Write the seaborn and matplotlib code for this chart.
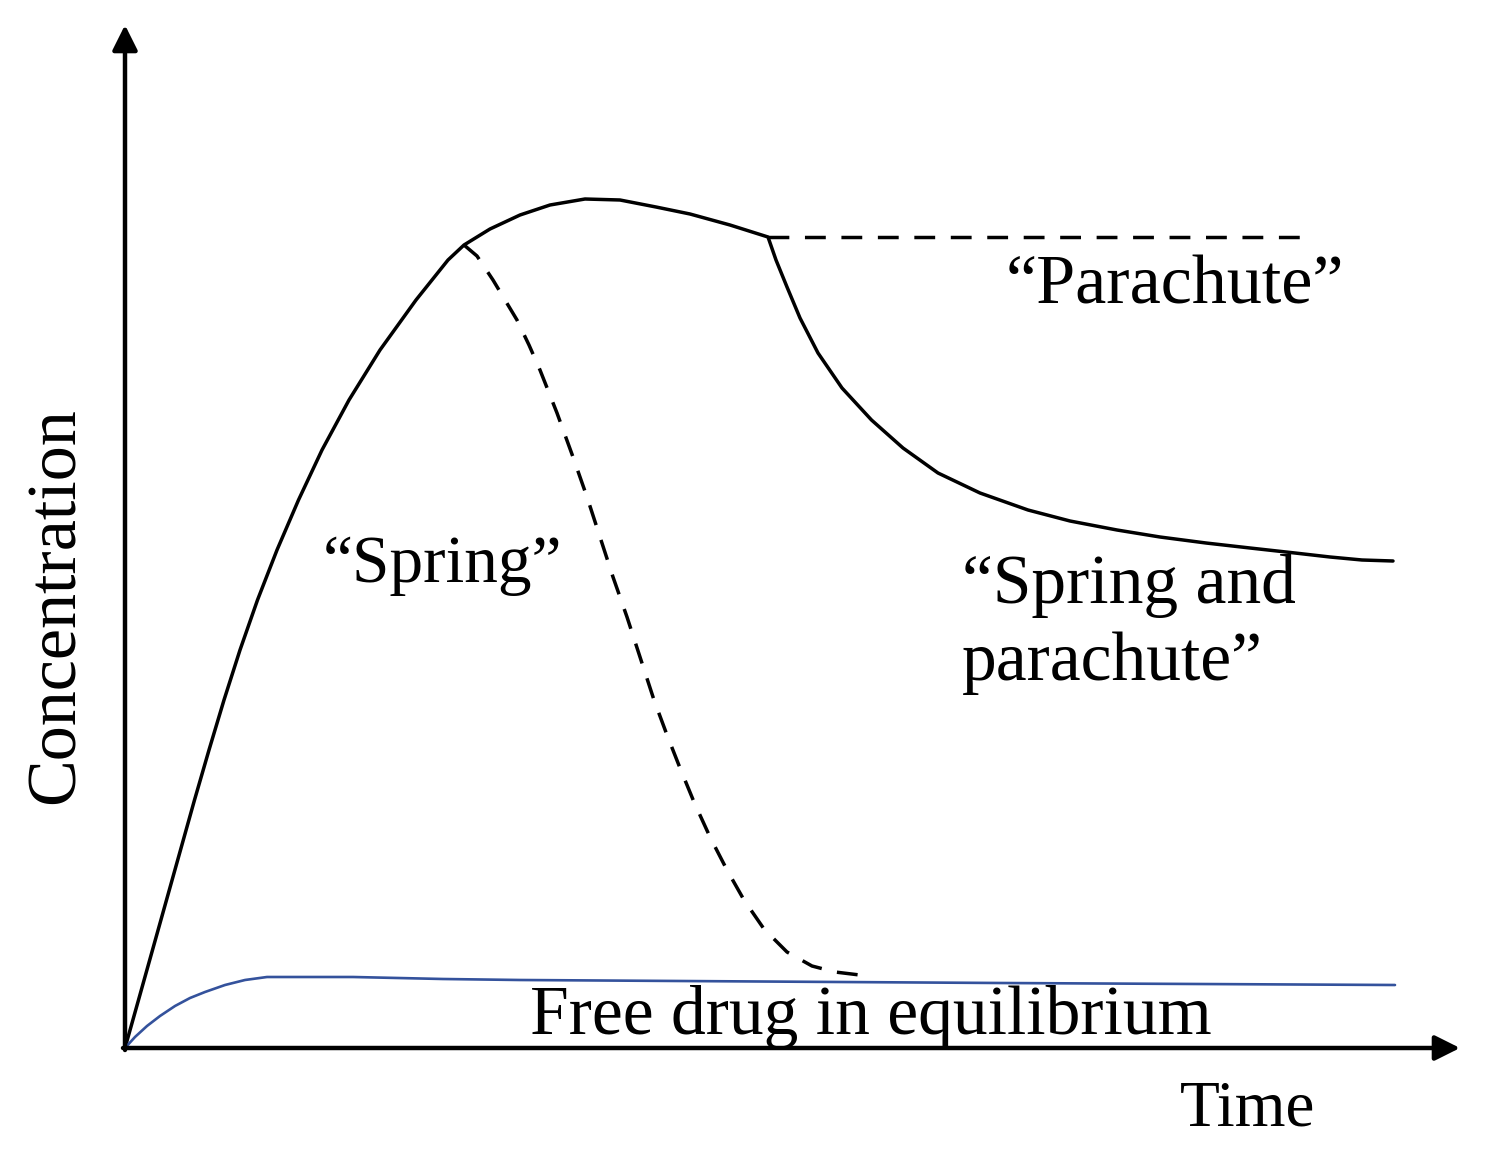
import seaborn as sns
import matplotlib.pyplot as plt

# schematic values (arbitrary time / concentration units)
# solid curve: rise, peak, then the slow "parachute" decline
main_t = [0, 13.5, 27.5, 41.5, 55.5, 69.5, 84, 99, 115, 132.5, 152, 173.5, 197, 224,
          255, 291, 323, 339, 365, 395, 425, 460, 495, 531, 565, 605, 643,
          651, 662, 675, 693, 717, 746.5, 778, 813, 855, 903, 945, 992, 1035,
          1081, 1125, 1170, 1205, 1237, 1268]
main_c = [0, 48, 98, 148, 198, 248, 298, 348, 398, 448, 498, 548, 598, 648,
          698, 748, 788, 803, 819, 833, 843, 849, 848, 841, 834, 823, 811,
          788, 761, 730, 695, 660, 628, 600, 575, 555, 538, 527, 518, 511,
          505, 500, 495, 491, 488, 487]

# dashed "spring" curve (fast drop back to equilibrium)
spring_t = [339, 352, 368, 380, 392, 404, 415, 432, 448, 462, 475, 488, 502, 515,
            529, 542, 555, 569, 585, 602, 619, 639, 662, 687, 710, 743]
spring_c = [803, 792, 768, 748, 728, 703, 678, 635, 591, 551, 511, 471, 431, 391,
            348, 313, 280, 246, 211, 178, 148, 119, 96, 82, 76, 72]

# dashed "parachute" plateau
parachute_t = [643, 1188]
parachute_c = [811, 811]

# free drug in equilibrium (blue)
free_t = [0, 10, 22, 35, 50, 65, 80, 100, 120, 142, 228, 318, 395, 875, 1270]
free_c = [0, 11, 22, 32, 42, 50, 56, 63, 68, 71, 71, 69, 68, 65, 63]

sns.set_style('white')
plt.rcParams['font.family'] = ['Liberation Serif', 'DejaVu Serif']

W, H = 1488, 1158
fig = plt.figure(figsize=(W / 100, H / 100), dpi=100)
ax = fig.add_axes([125 / W, 110 / H, 1330 / W, 1018 / H])

sns.lineplot(x=main_t, y=main_c, ax=ax, color='black', lw=2.5, sort=False)
sns.lineplot(x=spring_t, y=spring_c, ax=ax, color='black', lw=2.5, sort=False)
ax.lines[-1].set_dashes((6, 4.5))
sns.lineplot(x=parachute_t, y=parachute_c, ax=ax, color='black', lw=2.5, sort=False)
ax.lines[-1].set_dashes((6, 4.5))
sns.lineplot(x=free_t, y=free_c, ax=ax, color='#34529c', lw=1.9, sort=False)

ax.set_xlim(0, 1330)
ax.set_ylim(0, 1018)
ax.set_xticks([])
ax.set_yticks([])
for s in ax.spines.values():
    s.set_visible(False)

# axes drawn as arrows
arrow = dict(arrowstyle='-|>', color='black', lw=3.2, mutation_scale=38,
             shrinkA=0, shrinkB=0)
ax.annotate('', xy=(1335, 0), xytext=(-2, 0), arrowprops=arrow, annotation_clip=False)
ax.annotate('', xy=(0, 1023), xytext=(0, -2), arrowprops=arrow, annotation_clip=False)


def label(px, py, s, size, **kw):
    fig.text(px / W, 1 - py / H, s, fontsize=size, color='black', **kw)


label(1175, 304, '\u201cParachute\u201d', 50.5, ha='center', va='baseline')
label(442, 582, '\u201cSpring\u201d', 48.5, ha='center', va='baseline')
label(962, 603, '\u201cSpring and', 50, ha='left', va='baseline')
label(962, 680, 'parachute\u201d', 50, ha='left', va='baseline')
label(530, 1034, 'Free drug in equilibrium', 50, ha='left', va='baseline')
label(1180, 1125, 'Time', 47, ha='left', va='baseline')
label(57, 606, 'Concentration', 50.5, ha='center', va='center', rotation=90)

fig.savefig('out.png', dpi=100)
